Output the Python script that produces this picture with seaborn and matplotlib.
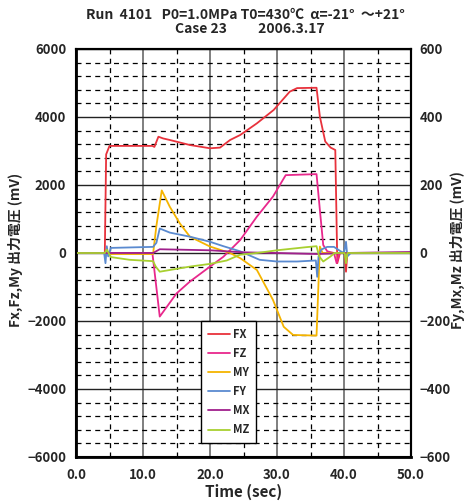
import matplotlib
matplotlib.use("Agg")
import matplotlib.pyplot as plt
import seaborn as sns
import pandas as pd
import numpy as np
from matplotlib.lines import Line2D

# ---- data ----
FX_t = [0, 4.3, 4.5, 5.0, 11.4, 11.7, 12.3, 13.0, 14, 17, 20, 21.5, 23, 24.5, 27, 29.5, 31.9, 33, 35.9, 36.4, 37.2, 38.0, 38.7, 39.0, 39.4, 40.1, 40.3, 40.5, 50]
FX_v = [0, 0, 2900, 3150, 3150, 3120, 3420, 3370, 3324, 3176, 3080, 3100, 3324, 3470, 3814, 4206, 4745, 4850, 4860, 4010, 3280, 3100, 3030, -300, 0, 0, -550, 0, 0]

FZ_t = [0, 11.4, 12.5, 15, 17, 20, 22, 24.5, 27, 29.4, 31.3, 35.9, 36.4, 36.9, 37.5, 38.5, 38.9, 39.3, 50]
FZ_v = [0, 0, -1870, -1190, -840, -400, -110, 380, 1070, 1660, 2290, 2320, 1265, 235, 50, 0, -300, 0, 0]

MY_t = [0, 4.3, 4.6, 11.5, 12.0, 12.8, 14, 15.5, 17, 20, 23, 24.5, 27, 29.4, 31.0, 32.4, 35.9, 36.4, 36.8, 38, 50]
MY_v = [0, 0, -30, -30, 800, 1840, 1360, 870, 480, 190, 0, -150, -500, -1380, -2170, -2410, -2430, 190, 0, 0, 0]

FY_t = [0, 4.2, 4.4, 4.6, 4.8, 5.2, 11.5, 12.0, 12.5, 14, 17, 20, 22, 24.5, 27.4, 30, 33, 35.8, 36.0, 36.2, 36.6, 37.5, 38.5, 39.5, 40.0, 40.3, 40.5, 41, 50]
FY_v = [0, 0, -30, 20, -10, 15, 18, 30, 72, 60, 48, 33, 20, 5, -20, -25, -25, -22, -70, -10, 10, 18, 18, 5, 0, 33, -10, 0, 0]

MX_t = [0, 11.5, 12.5, 20, 25, 30, 36, 40, 50]
MX_v = [0, 0, 11, 8, 2, 0, -3, 0, 3]

MZ_t = [0, 4.3, 4.6, 5.2, 8, 11.5, 11.9, 12.5, 17, 20, 22.5, 24.5, 27, 30, 34.3, 35.9, 36.3, 36.9, 38.0, 38.6, 40.1, 40.3, 40.5, 50]
MZ_v = [0, 0, 10, -12, -20, -24, -40, -55, -40, -32, -22, -5, 0, 8, 17, 20, -10, -25, -10, 0, 0, -30, 0, 0]

left_names = ["FX", "FZ", "MY"]
right_names = ["FY", "MX", "MZ"]
colors = {"FX": "#E8323C", "FZ": "#E8288C", "MY": "#F5B400",
          "FY": "#5A8AD0", "MX": "#A0208C", "MZ": "#A8D030"}

series = {"FX": (FX_t, FX_v), "FZ": (FZ_t, FZ_v), "MY": (MY_t, MY_v),
          "FY": (FY_t, FY_v), "MX": (MX_t, MX_v), "MZ": (MZ_t, MZ_v)}

def frame(names):
    rows = []
    for n in names:
        t, v = series[n]
        for a, b in zip(t, v):
            rows.append((n, a, b))
    return pd.DataFrame(rows, columns=["name", "t", "v"])

sns.set_theme(style="white")
plt.rcParams["font.family"] = ["Noto Sans CJK JP", "DejaVu Sans"]
plt.rcParams["font.weight"] = "bold"

fig = plt.figure(figsize=(4.66, 5.04), dpi=100)
ax = fig.add_axes([76/466, 1-457/504, (411-76)/466, (457-49)/504])
ax2 = ax.twinx()

sns.lineplot(data=frame(left_names), x="t", y="v", hue="name", palette=colors,
             hue_order=left_names, ax=ax, legend=False, lw=1.3, sort=False,
             estimator=None)
sns.lineplot(data=frame(right_names), x="t", y="v", hue="name", palette=colors,
             hue_order=right_names, ax=ax2, legend=False, lw=1.3, sort=False,
             estimator=None)

ax.set_xlim(0, 50)
ax.set_ylim(-6000, 6000)
ax2.set_ylim(-600, 600)
ax.set_xticks(np.arange(0, 51, 10))
ax.set_xticks(np.arange(5, 50, 10), minor=True)
ax.set_yticks(np.arange(-6000, 6001, 2000))
ax.set_yticks(np.arange(-6000, 6001, 400), minor=True)
ax2.set_yticks(np.arange(-600, 601, 200))
ax.set_xticklabels([f"{x:.1f}" for x in np.arange(0, 51, 10)])

ax.grid(which="major", axis="x", color="#6a6a6a", lw=1.2, ls="-")
ax.grid(which="major", axis="y", color="#222222", lw=1.0, ls="-")
ax.grid(which="minor", color="black", lw=0.9, ls=(0, (4, 3.5)))
ax2.grid(False)
ax.set_axisbelow(True)

for a in (ax, ax2):
    a.tick_params(which="both", length=0, labelsize=9.5)
    for lab in a.get_xticklabels() + a.get_yticklabels():
        lab.set_fontweight("bold")
    for s in a.spines.values():
        s.set_color("black")
        s.set_linewidth(1.5)
ax.tick_params(axis="y", pad=7)
ax.tick_params(axis="x", pad=8)
ax2.tick_params(axis="y", pad=6)
ax.spines["left"].set_linewidth(2)
ax.spines["bottom"].set_linewidth(2)

ax.set_xlabel("Time (sec)", fontsize=11, fontweight="bold", labelpad=1)
ax.set_ylabel("")
ax2.set_ylabel("")
mid_y = 1 - 250/504
fig.text(15/466, mid_y, "Fx,Fz,My 出力電圧 (mV)",
         rotation=90, ha="center", va="center", fontsize=10, fontweight="bold")
fig.text(457/466, mid_y, "Fy,Mx,Mz 出力電圧 (mV)",
         rotation=90, ha="center", va="center", fontsize=10, fontweight="bold")

fig.text(245/466, 1-15/504, "Run  4101   P0=1.0MPa T0=430℃  α=-21°  ～+21°",
         ha="center", va="center", fontsize=10, fontweight="bold")
fig.text(250/466, 1-29/504, "Case 23          2006.3.17",
         ha="center", va="center", fontsize=10, fontweight="bold")

handles = [Line2D([], [], color=colors[n], lw=1.3) for n in left_names + right_names]
leg = ax.legend(handles, left_names + right_names, loc="lower left",
                bbox_to_anchor=(0.373, 0.034), fancybox=False, framealpha=1,
                edgecolor="black", fontsize=8, labelspacing=0.55,
                handlelength=2.0, handletextpad=0.3, borderpad=0.6,
                borderaxespad=0)
leg.get_frame().set_linewidth(1.0)
for txt in leg.get_texts():
    txt.set_fontweight("bold")
leg.set_zorder(10)

fig.savefig("out.png", dpi=100)
